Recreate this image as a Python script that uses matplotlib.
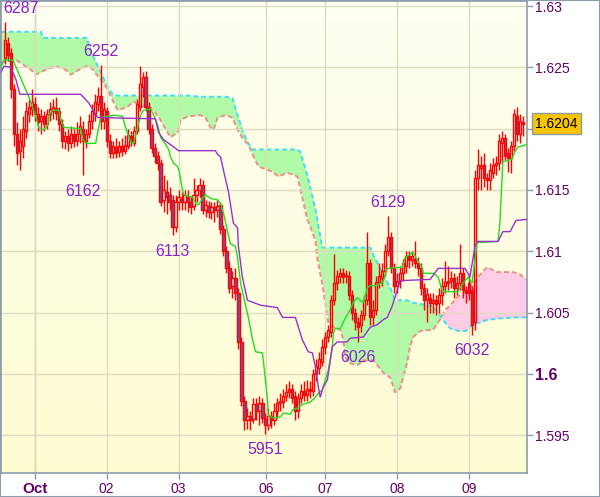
import matplotlib
matplotlib.use("Agg")
import matplotlib.pyplot as plt
import matplotlib.transforms as mtrans
from matplotlib.patches import Rectangle
import numpy as np

plt.rcParams['font.family'] = ['Liberation Sans', 'DejaVu Sans']

# hourly candles, oldest first
opens = [1.6258, 1.6270, 1.6262, 1.6232, 1.6196, 1.6182, 1.6186, 1.6198, 1.6212, 1.6216,
         1.6220, 1.6212, 1.6206, 1.6210, 1.6204, 1.6212, 1.6214, 1.6217, 1.6214, 1.6204,
         1.6190, 1.6194, 1.6188, 1.6196, 1.6190, 1.6196, 1.6200, 1.6190, 1.6196, 1.6206,
         1.6212, 1.6220, 1.6227, 1.6206, 1.6214, 1.6190, 1.6180, 1.6185, 1.6181, 1.6186,
         1.6182, 1.6186, 1.6194, 1.6188, 1.6198, 1.6218, 1.6234, 1.6242, 1.6218, 1.6200,
         1.6184, 1.6178, 1.6172, 1.6142, 1.6148, 1.6146, 1.6142, 1.6120, 1.6140, 1.6143,
         1.6140, 1.6144, 1.6140, 1.6137, 1.6146, 1.6150, 1.6154, 1.6134, 1.6137, 1.6132,
         1.6136, 1.6134, 1.6138, 1.6118, 1.6100, 1.6086, 1.6072, 1.6078, 1.6066, 1.6026,
         1.5978, 1.5962, 1.5966, 1.5963, 1.5975, 1.5970, 1.5976, 1.5963, 1.5958, 1.5966,
         1.5962, 1.5970, 1.5976, 1.5977, 1.5982, 1.5985, 1.5988, 1.5982, 1.5970, 1.5980,
         1.5986, 1.5983, 1.5988, 1.5986, 1.6000, 1.6005, 1.6010, 1.6022, 1.6030, 1.6034,
         1.6060, 1.6074, 1.6080, 1.6082, 1.6080, 1.6080, 1.6064, 1.6050, 1.6042, 1.6040,
         1.6048, 1.6060, 1.6090, 1.6046, 1.6052, 1.6075, 1.6078, 1.6084, 1.6100, 1.6112,
         1.6086, 1.6072, 1.6076, 1.6082, 1.6088, 1.6096, 1.6093, 1.6094, 1.6090, 1.6086,
         1.6070, 1.6060, 1.6062, 1.6058, 1.6060, 1.6058, 1.6064, 1.6072, 1.6074, 1.6076,
         1.6078, 1.6070, 1.6074, 1.6082, 1.6068, 1.6074, 1.6068, 1.6042, 1.6160, 1.6168,
         1.6170, 1.6160, 1.6158, 1.6164, 1.6170, 1.6172, 1.6188, 1.6192, 1.6180, 1.6176,
         1.6186, 1.6210, 1.6196, 1.6205]
highs = [1.6287, 1.6275, 1.6266, 1.6236, 1.6205, 1.6200, 1.6210, 1.6222, 1.6224, 1.6232,
         1.6226, 1.6218, 1.6216, 1.6214, 1.6216, 1.6222, 1.6224, 1.6226, 1.6218, 1.6208,
         1.6198, 1.6200, 1.6202, 1.6200, 1.6205, 1.6210, 1.6206, 1.6200, 1.6212, 1.6220,
         1.6228, 1.6234, 1.6252, 1.6222, 1.6218, 1.6196, 1.6190, 1.6192, 1.6190, 1.6192,
         1.6195, 1.6200, 1.6198, 1.6202, 1.6224, 1.6251, 1.6246, 1.6247, 1.6222, 1.6204,
         1.6188, 1.6182, 1.6175, 1.6162, 1.6158, 1.6152, 1.6146, 1.6146, 1.6150, 1.6148,
         1.6150, 1.6150, 1.6145, 1.6160, 1.6154, 1.6160, 1.6158, 1.6142, 1.6141, 1.6140,
         1.6140, 1.6142, 1.6140, 1.6121, 1.6104, 1.6092, 1.6084, 1.6086, 1.6070, 1.6030,
         1.5982, 1.5972, 1.5970, 1.5980, 1.5980, 1.5982, 1.5980, 1.5968, 1.5972, 1.5970,
         1.5976, 1.5980, 1.5984, 1.5988, 1.5992, 1.5994, 1.5992, 1.5986, 1.5984, 1.5992,
         1.5994, 1.5995, 1.5994, 1.6004, 1.6012, 1.6018, 1.6028, 1.6034, 1.6040, 1.6064,
         1.6098, 1.6085, 1.6086, 1.6086, 1.6085, 1.6084, 1.6068, 1.6054, 1.6046, 1.6052,
         1.6064, 1.6116, 1.6094, 1.6060, 1.6080, 1.6090, 1.6090, 1.6106, 1.6129, 1.6116,
         1.6090, 1.6082, 1.6088, 1.6094, 1.6100, 1.6100, 1.6100, 1.6108, 1.6095, 1.6090,
         1.6074, 1.6070, 1.6066, 1.6066, 1.6064, 1.6070, 1.6078, 1.6092, 1.6088, 1.6084,
         1.6082, 1.6080, 1.6106, 1.6086, 1.6072, 1.6080, 1.6072, 1.6166, 1.6183, 1.6178,
         1.6180, 1.6164, 1.6172, 1.6176, 1.6178, 1.6196, 1.6198, 1.6196, 1.6184, 1.6190,
         1.6216, 1.6218, 1.6212, 1.6210]
lows = [1.6253, 1.6255, 1.6225, 1.6186, 1.6170, 1.6166, 1.6176, 1.6192, 1.6205, 1.6210,
        1.6206, 1.6198, 1.6196, 1.6198, 1.6200, 1.6206, 1.6208, 1.6207, 1.6198, 1.6184,
        1.6183, 1.6182, 1.6184, 1.6185, 1.6186, 1.6188, 1.6162, 1.6184, 1.6192, 1.6200,
        1.6206, 1.6214, 1.6200, 1.6200, 1.6185, 1.6176, 1.6176, 1.6176, 1.6177, 1.6178,
        1.6179, 1.6183, 1.6186, 1.6186, 1.6196, 1.6214, 1.6226, 1.6214, 1.6196, 1.6180,
        1.6172, 1.6166, 1.6137, 1.6132, 1.6130, 1.6134, 1.6113, 1.6116, 1.6134, 1.6134,
        1.6134, 1.6132, 1.6130, 1.6134, 1.6140, 1.6144, 1.6130, 1.6128, 1.6127, 1.6126,
        1.6124, 1.6128, 1.6114, 1.6096, 1.6082, 1.6066, 1.6062, 1.6060, 1.6020, 1.5974,
        1.5954, 1.5955, 1.5954, 1.5960, 1.5962, 1.5958, 1.5960, 1.5951, 1.5954, 1.5956,
        1.5958, 1.5964, 1.5970, 1.5972, 1.5978, 1.5980, 1.5976, 1.5962, 1.5964, 1.5976,
        1.5978, 1.5978, 1.5980, 1.5982, 1.5994, 1.6000, 1.6006, 1.6016, 1.6026, 1.6030,
        1.6056, 1.6068, 1.6074, 1.6074, 1.6074, 1.6060, 1.6044, 1.6036, 1.6026, 1.6034,
        1.6044, 1.6056, 1.6040, 1.6040, 1.6048, 1.6070, 1.6072, 1.6080, 1.6096, 1.6082,
        1.6066, 1.6066, 1.6070, 1.6076, 1.6082, 1.6086, 1.6088, 1.6086, 1.6080, 1.6064,
        1.6052, 1.6042, 1.6050, 1.6050, 1.6048, 1.6050, 1.6056, 1.6066, 1.6068, 1.6070,
        1.6062, 1.6064, 1.6068, 1.6062, 1.6058, 1.6060, 1.6032, 1.6036, 1.6150, 1.6150,
        1.6152, 1.6150, 1.6150, 1.6160, 1.6162, 1.6166, 1.6172, 1.6174, 1.6165, 1.6164,
        1.6182, 1.6190, 1.6188, 1.6194]
closes = [1.6272, 1.6260, 1.6232, 1.6196, 1.6180, 1.6190, 1.6200, 1.6214, 1.6218, 1.6222,
          1.6212, 1.6205, 1.6210, 1.6204, 1.6212, 1.6216, 1.6218, 1.6213, 1.6204, 1.6190,
          1.6194, 1.6188, 1.6196, 1.6190, 1.6196, 1.6202, 1.6190, 1.6196, 1.6206, 1.6214,
          1.6222, 1.6227, 1.6206, 1.6216, 1.6190, 1.6180, 1.6186, 1.6180, 1.6186, 1.6182,
          1.6187, 1.6195, 1.6190, 1.6198, 1.6220, 1.6236, 1.6242, 1.6218, 1.6200, 1.6184,
          1.6178, 1.6172, 1.6140, 1.6150, 1.6144, 1.6140, 1.6120, 1.6140, 1.6144, 1.6140,
          1.6146, 1.6140, 1.6136, 1.6146, 1.6150, 1.6154, 1.6134, 1.6138, 1.6132, 1.6136,
          1.6134, 1.6137, 1.6118, 1.6100, 1.6086, 1.6070, 1.6078, 1.6066, 1.6026, 1.5978,
          1.5962, 1.5966, 1.5962, 1.5975, 1.5970, 1.5976, 1.5964, 1.5958, 1.5966, 1.5962,
          1.5970, 1.5976, 1.5978, 1.5982, 1.5985, 1.5988, 1.5980, 1.5970, 1.5980, 1.5986,
          1.5983, 1.5988, 1.5986, 1.6000, 1.6006, 1.6012, 1.6022, 1.6030, 1.6036, 1.6060,
          1.6074, 1.6080, 1.6082, 1.6079, 1.6081, 1.6064, 1.6050, 1.6042, 1.6038, 1.6048,
          1.6060, 1.6090, 1.6046, 1.6052, 1.6075, 1.6080, 1.6084, 1.6100, 1.6112, 1.6086,
          1.6072, 1.6076, 1.6082, 1.6090, 1.6096, 1.6093, 1.6096, 1.6090, 1.6086, 1.6070,
          1.6060, 1.6065, 1.6058, 1.6060, 1.6057, 1.6064, 1.6072, 1.6075, 1.6076, 1.6078,
          1.6070, 1.6074, 1.6082, 1.6068, 1.6066, 1.6066, 1.6040, 1.6160, 1.6170, 1.6170,
          1.6160, 1.6158, 1.6166, 1.6170, 1.6172, 1.6190, 1.6192, 1.6178, 1.6176, 1.6186,
          1.6212, 1.6196, 1.6206, 1.6204]

# tenkan-sen (green), read at bar positions
tenkan_t = [-1.3, -0.3, 2.7, 5.3, 8, 10.3, 11.3, 13, 14.3, 14.7, 16, 18, 18.7, 19.7, 25.3, 26, 27,
            30.3, 31, 32, 36.3, 39.3, 40.3, 42, 43, 43.7, 44.7, 45.3, 46.3, 48.7, 49.7, 51, 52,
            53.7, 54.7, 55.3, 56.3, 57.7, 58.3, 59.3, 59.7, 62.7, 63.7, 64.7, 66, 67, 68.7, 71,
            72, 73, 74.3, 75.3, 77, 77.7, 78.7, 79.7, 81.3, 82.7, 83.7, 86, 86.3, 87.7, 88, 89.7,
            92, 93, 95.3, 96.3, 97.7, 99.3, 102, 103.7, 104.7, 106, 107, 108, 109.3, 109.7, 110.3,
            112, 113, 114.3, 115.3, 116.3, 117.7, 118.7, 119.7, 121, 122, 124.3, 126.3, 127.7,
            132.7, 133.7, 136.3, 137.7, 139.3, 139.7, 143, 144.7, 146, 147, 151.3, 152.7, 154.7,
            156, 157.7, 164.7, 165.3, 166.3, 169.3, 170.3, 171.3, 174.3]
tenkan = [1.6250, 1.6256, 1.6256, 1.6241, 1.6226, 1.6210, 1.6201, 1.6199, 1.6203, 1.6211, 1.6215,
          1.6215, 1.6207, 1.6201, 1.6200, 1.6191, 1.6188, 1.6188, 1.6197, 1.6209, 1.6211, 1.6210,
          1.6201, 1.6189, 1.6188, 1.6195, 1.6205, 1.6211, 1.6215, 1.6216, 1.6211, 1.6203, 1.6193,
          1.6187, 1.6183, 1.6177, 1.6172, 1.6169, 1.6164, 1.6150, 1.6146, 1.6144, 1.6139, 1.6138,
          1.6143, 1.6146, 1.6143, 1.6142, 1.6139, 1.6131, 1.6117, 1.6106, 1.6104, 1.6095, 1.6074,
          1.6063, 1.6046, 1.6028, 1.6018, 1.6017, 1.6011, 1.5979, 1.5966, 1.5964, 1.5965, 1.5968,
          1.5967, 1.5971, 1.5972, 1.5975, 1.5977, 1.5981, 1.5984, 1.5987, 1.5995, 1.6003, 1.6020,
          1.6033, 1.6037, 1.6037, 1.6042, 1.6048, 1.6052, 1.6058, 1.6062, 1.6060, 1.6058, 1.6070,
          1.6072, 1.6072, 1.6075, 1.6086, 1.6087, 1.6095, 1.6099, 1.6093, 1.6087, 1.6082, 1.6082,
          1.6079, 1.6068, 1.6067, 1.6067, 1.6073, 1.6079, 1.6074, 1.6107, 1.6108, 1.6123, 1.6173,
          1.6175, 1.6181, 1.6185, 1.6187]

# kijun-sen (purple)
kijun_t = [-1.3, -0.3, 2, 3.7, 5, 25.3, 28, 31, 50.3, 51.3, 53, 55.3, 58, 70.3, 71, 72, 73, 74.7,
           76.3, 77.7, 78, 79.3, 81, 85.3, 91, 92.7, 97, 99.3, 101.3, 102.7, 103.7, 104.7, 105.3,
           106.3, 107.7, 109.3, 111, 114.3, 115.3, 119.7, 122, 124.3, 126.3, 127.7, 129.3, 131,
           132, 142, 144.7, 153.7, 155.3, 157, 157.7, 164.7, 166.3, 168.7, 170.7, 174.3]
kijun = [1.6246, 1.6251, 1.6250, 1.6240, 1.6228, 1.6228, 1.6221, 1.6209, 1.6208, 1.6197, 1.6191,
         1.6187, 1.6182, 1.6182, 1.6179, 1.6177, 1.6166, 1.6148, 1.6123, 1.6119, 1.6104, 1.6079,
         1.6060, 1.6056, 1.6054, 1.6046, 1.6046, 1.6028, 1.6018, 1.6017, 1.6006, 1.5989, 1.5981,
         1.5989, 1.5995, 1.6022, 1.6026, 1.6026, 1.6029, 1.6030, 1.6038, 1.6040, 1.6044, 1.6046,
         1.6055, 1.6068, 1.6076, 1.6077, 1.6086, 1.6086, 1.6079, 1.6104, 1.6108, 1.6108, 1.6116,
         1.6116, 1.6125, 1.6126]

# kumo: senkou span A (salmon) and span B (cyan), shifted forward
cloud_t = [-1.3, 3.7, 8.7, 10.3, 12, 12.7, 13.7, 17, 20.3, 22, 24.7, 27.3, 28.7, 32, 34.3, 36,
           37.7, 41, 43, 46.3, 49.7, 52, 54.3, 55.3, 57.7, 58.7, 61, 65.3, 67, 68.7, 69.7, 71,
           73.7, 76, 77.7, 79.7, 81.3, 82.7, 84.7, 89.3, 91.3, 94.3, 97.7, 98.7, 101, 103.7,
           104.3, 106, 108, 110.3, 112, 113, 113.7, 114.7, 117.7, 119.7, 122, 123, 124.7, 126.3,
           128.7, 130.3, 132, 134.3, 135.3, 136.3, 138.7, 143, 144.7, 145.7, 147, 148.7, 151.3,
           154, 156, 158.7, 161, 164.3, 169.7, 172, 174.3]
span_a = [1.6254, 1.6256, 1.6248, 1.6244, 1.6246, 1.6247, 1.6248, 1.6251, 1.6248, 1.6244, 1.6248,
          1.6251, 1.6250, 1.6240, 1.6232, 1.6223, 1.6215, 1.6218, 1.6222, 1.6218, 1.6215, 1.6207,
          1.6197, 1.6193, 1.6197, 1.6207, 1.6210, 1.6211, 1.6209, 1.6201, 1.6199, 1.6209, 1.6211,
          1.6209, 1.6199, 1.6191, 1.6187, 1.6179, 1.6169, 1.6165, 1.6161, 1.6164, 1.6161, 1.6150,
          1.6126, 1.6109, 1.6095, 1.6073, 1.6042, 1.6037, 1.6036, 1.6028, 1.6014, 1.6009, 1.6007,
          1.6011, 1.6011, 1.6011, 1.6006, 1.6001, 1.5997, 1.5985, 1.5988, 1.6009, 1.6022, 1.6030,
          1.6035, 1.6036, 1.6042, 1.6046, 1.6052, 1.6056, 1.6063, 1.6068, 1.6072, 1.6081, 1.6087,
          1.6083, 1.6083, 1.6081, 1.6077]
span_b = [1.6279, 1.6279, 1.6279, 1.6279, 1.6279, 1.6274, 1.6274, 1.6274, 1.6274, 1.6274, 1.6274,
          1.6274, 1.6263, 1.6246, 1.6234, 1.6228, 1.6227, 1.6227, 1.6227, 1.6227, 1.6227, 1.6227,
          1.6227, 1.6227, 1.6227, 1.6227, 1.6227, 1.6226, 1.6226, 1.6226, 1.6226, 1.6226, 1.6226,
          1.6225, 1.6211, 1.6196, 1.6188, 1.6183, 1.6183, 1.6183, 1.6183, 1.6183, 1.6183, 1.6181,
          1.6162, 1.6134, 1.6126, 1.6103, 1.6103, 1.6103, 1.6103, 1.6103, 1.6103, 1.6103, 1.6103,
          1.6103, 1.6103, 1.6097, 1.6089, 1.6081, 1.6070, 1.6060, 1.6060, 1.6060, 1.6059, 1.6058,
          1.6057, 1.6055, 1.6050, 1.6046, 1.6042, 1.6037, 1.6035, 1.6035, 1.6040, 1.6042, 1.6044,
          1.6045, 1.6046, 1.6046, 1.6046]

day_pos = [10, 34, 58, 87.3, 107, 131, 155]
day_labels = ['Oct', '02', '03', '06', '07', '08', '09']
price_ticks = [1.595, 1.6, 1.605, 1.61, 1.615, 1.62, 1.625, 1.63]
price_labels = ['1.595', '1.6', '1.605', '1.61', '1.615', '', '1.625', '1.63']
last_price = 1.6204
swing_bars = [0, 32, 26, 56, 87, 118, 128, 156]
swing_high = [True, True, False, False, False, False, True, False]

axis_col = '#8c9cac'
text_col = '#660066'

fig = plt.figure(figsize=(6, 4.97), dpi=100)
ax = fig.add_axes([0.0015, 24 / 497, 526 / 600, 472 / 497])
x0, x1 = -1.33, 174.33
y0, y1 = 1.59191, 1.63041
ax.set_xlim(x0, x1)
ax.set_ylim(y0, y1)

# background gradient
g = np.linspace(0, 1, 256)[:, None, None]
top = np.array([1.0, 1.0, 0.95])
bot = np.array([0.996, 0.99, 0.82])
ax.imshow(top * (1 - g) + bot * g, extent=[x0, x1, y0, y1], aspect='auto',
          origin='upper', zorder=0.1)

# cloud
ct = np.array(cloud_t)
sa = np.array(span_a)
sb = np.array(span_b)
ax.fill_between(ct, sa, sb, where=sb >= sa, interpolate=True, color='#b2fba6', lw=0, zorder=0.3)
ax.fill_between(ct, sa, sb, where=sa > sb, interpolate=True, color='#ffcce6', lw=0, zorder=0.3)
ax.plot(ct, sb, color='#40def0', lw=1.4, ls=(0, (2.5, 1.5)), zorder=0.4)
ax.plot(ct, sa, color='#f08c8c', lw=1.4, ls=(0, (2.5, 1.5)), zorder=0.4)

# candles
o = np.array(opens)
h = np.array(highs)
l = np.array(lows)
c = np.array(closes)
t = np.arange(len(c))
body_top = np.maximum(o, c)
body_bot = np.minimum(o, c)
ax.vlines(t, body_top, h, color='#ff0000', lw=1.0, zorder=3)
ax.vlines(t, l, body_bot, color='#ff0000', lw=1.0, zorder=3)
fills = ['#6f52a2' if cc < oo else 'none' for oo, cc in zip(o, c)]
ax.bar(t, np.maximum(body_top - body_bot, 0.00004), bottom=body_bot, width=0.75,
       facecolor=fills, edgecolor='#ff0000', lw=1.0, zorder=4)

# tenkan / kijun
ax.plot(tenkan_t, tenkan, color='#22dd22', lw=1.0, zorder=5)
ax.plot(kijun_t, kijun, color='#9a30cc', lw=1.0, zorder=5)

# swing labels
for b, is_high in zip(swing_bars, swing_high):
    v = highs[b] if is_high else lows[b]
    dx = 16 if b == 0 else 0
    dy = 13 if is_high else -16
    ax.annotate(f"{v:.4f}"[2:], (b, v), xytext=(dx * 0.72, dy * 0.72), textcoords='offset points',
                ha='center', va='center', fontsize=11.5, color='#8a22cc', zorder=6)

# grid and axes
ax.set_axisbelow(True)
ax.set_xticks(day_pos)
ax.set_xticklabels(day_labels)
ax.set_yticks(price_ticks)
ax.set_yticklabels(price_labels)
ax.yaxis.tick_right()
ax.grid(True, color='#dcdcc0', lw=1.0)
ax.axvline(day_pos[0], color='#c8c8a4', lw=1.0, zorder=0.5)
for s in ax.spines.values():
    s.set_color(axis_col)
    s.set_linewidth(1.2)
ax.tick_params(axis='both', direction='out', length=4.3, width=1, color=axis_col,
               labelcolor=text_col, labelsize=10)
ax.tick_params(axis='y', pad=1.5)
ax.tick_params(axis='x', pad=2)
xl = ax.get_xticklabels()
xl[0].set_fontweight('bold')
xl[0].set_fontsize(11)
yl = ax.get_yticklabels()
yl[1].set_fontweight('bold')
yl[1].set_fontsize(11.5)

# last price tag
tr = mtrans.blended_transform_factory(ax.transAxes, ax.transData)
ax.text(1.016, last_price, f"{last_price:.4f}", transform=tr, ha='left', va='center',
        fontsize=10, color='black', zorder=7,
        bbox=dict(boxstyle='square,pad=0.25', fc='#f7c600', ec=axis_col, lw=1))

fig.patches.append(Rectangle((0, 0), 1, 1, transform=fig.transFigure, fill=False,
                             ec=axis_col, lw=1.5))

fig.savefig('out.png', dpi=100)
